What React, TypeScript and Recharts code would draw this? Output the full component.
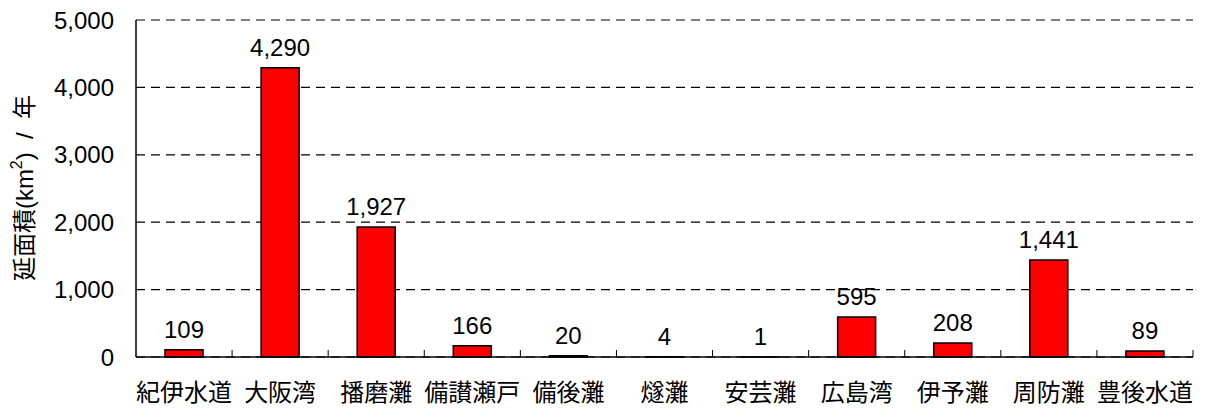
import React from 'react';
import { BarChart, Bar, XAxis, YAxis, CartesianGrid, LabelList } from 'recharts';

const categories = ['紀伊水道', '大阪湾', '播磨灘', '備讃瀬戸', '備後灘', '燧灘', '安芸灘', '広島湾', '伊予灘', '周防灘', '豊後水道'];
const values = [109, 4290, 1927, 166, 20, 4, 1, 595, 208, 1441, 89];
const yTicks = [0, 1000, 2000, 3000, 4000, 5000];

const data = categories.map((name, i) => ({ name, value: values[i] }));

const CHART_W = 1198;
const CHART_H = 401;
const MARGIN = { top: 12, right: 13, bottom: 0, left: 0 };
const Y_W = 128;
const PLOT_W = CHART_W - MARGIN.left - MARGIN.right - Y_W;
const BAND = PLOT_W / categories.length;

const FONT = '"Liberation Sans", Arial, "Noto Sans CJK JP", sans-serif';
const fmt = (v: number) => v.toLocaleString('en-US');

const XTick = (props: any) => {
  const { x, y, payload } = props;
  const bx = x + BAND / 2;
  return (
    <g>
      <line x1={bx} x2={bx} y1={y} y2={y - 7} stroke="#000" strokeWidth={1} />
      <text x={x} y={y + 38} textAnchor="middle" dominantBaseline="middle" fontSize={24} fontFamily={FONT} fill="#000">
        {payload.value}
      </text>
    </g>
  );
};

const YLabel = () => (
  <text
    transform="translate(19, 180) rotate(-90)"
    textAnchor="middle"
    dominantBaseline="middle"
    fontSize={24}
    fontFamily={FONT}
    fill="#000"
    style={{ whiteSpace: 'pre' }}
  >
    延面積(km<tspan dy={-9} fontSize={16}>2</tspan><tspan dy={9}>{')  /  年'}</tspan>
  </text>
);

export default function App() {
  return (
    <div style={{ width: CHART_W, height: CHART_H, position: 'relative' }}>
      <BarChart width={CHART_W} height={CHART_H} data={data} margin={MARGIN} barSize={38}>
        <CartesianGrid vertical={false} stroke="#000" strokeDasharray="9 6" strokeWidth={1.2} />
        <XAxis
          dataKey="name"
          height={CHART_H - MARGIN.top - 337}
          axisLine={{ stroke: '#000', strokeWidth: 1.5 }}
          tickLine={false}
          tickSize={0}
          tickMargin={0}
          interval={0}
          tick={<XTick />}
        />
        <YAxis
          width={Y_W}
          domain={[0, 5000]}
          ticks={yTicks}
          interval={0}
          tickFormatter={fmt}
          axisLine={{ stroke: '#000', strokeWidth: 1.5 }}
          tickLine={false}
          tickMargin={22}
          tickSize={0}
          tick={{ fontSize: 24, fontFamily: FONT, fill: '#000' }}
        />
        <Bar dataKey="value" fill="#ff0000" stroke="#000" strokeWidth={1.5} isAnimationActive={false}>
          <LabelList dataKey="value" position="top" offset={12} formatter={fmt} style={{ fontSize: 24, fontFamily: FONT, fill: '#000' }} />
        </Bar>
      </BarChart>
      <svg style={{ position: 'absolute', left: 0, top: 0, pointerEvents: 'none' }} width={60} height={CHART_H}>
        <YLabel />
      </svg>
    </div>
  );
}
